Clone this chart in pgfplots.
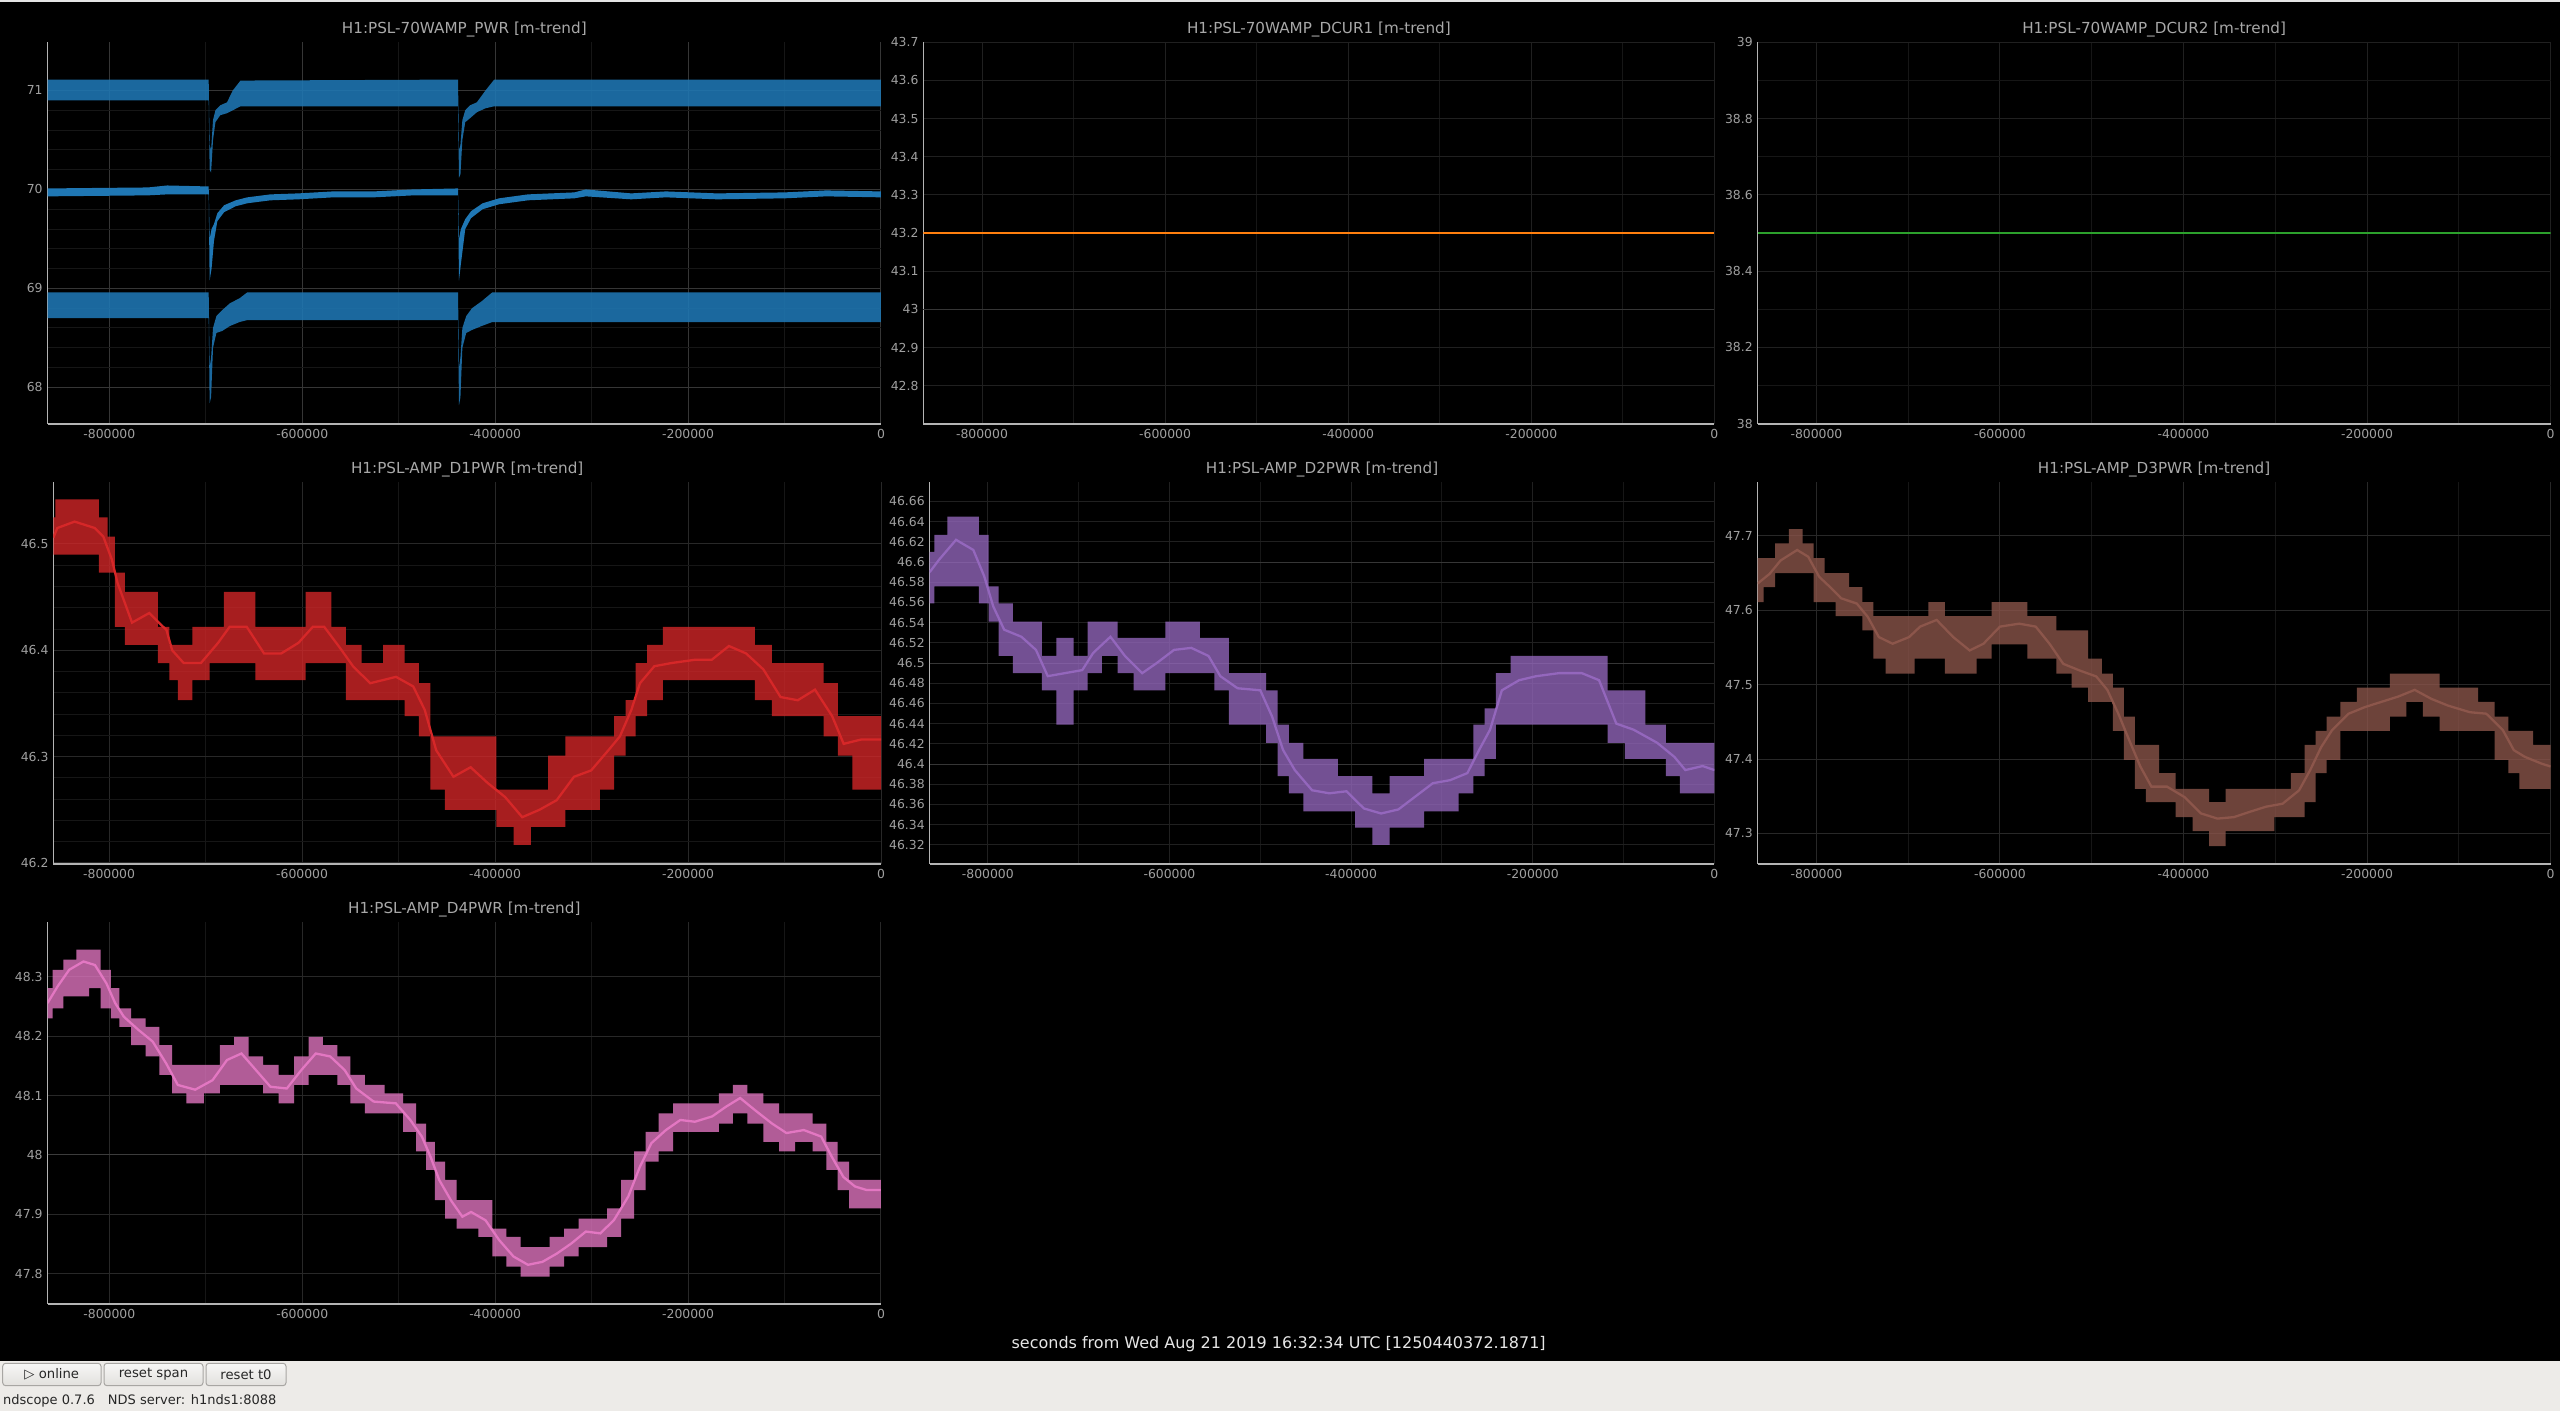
\documentclass[border=0pt]{standalone}
\usepackage{pgfplots}
\pgfplotsset{compat=1.18}
\usepackage{pgfplotstable}
\usepackage{fontspec}
\setmainfont{DejaVu Sans}

\definecolor{tblue}{HTML}{1F77B4}
\definecolor{torange}{HTML}{FF7F0E}
\definecolor{tgreen}{HTML}{2CA02C}
\definecolor{tred}{HTML}{D62728}
\definecolor{tpurple}{HTML}{9467BD}
\definecolor{tbrown}{HTML}{8C564B}
\definecolor{tpink}{HTML}{E377C2}
\definecolor{tickc}{HTML}{A0A0A0}
\definecolor{titlec}{HTML}{A8A8A8}
\definecolor{spinec}{HTML}{B4B4B4}
\definecolor{gridbright}{HTML}{363636}
\definecolor{gridmaj}{HTML}{202020}
\definecolor{gridmin}{HTML}{161616}
\definecolor{barbg}{HTML}{EDEBE8}
\definecolor{capc}{HTML}{E6E6E6}
\definecolor{topline}{HTML}{E4E4E4}
\definecolor{btntop}{HTML}{F7F7F6}
\definecolor{btnbot}{HTML}{E2E0DD}
\definecolor{btnborder}{HTML}{A8A6A3}
\definecolor{gridmid}{HTML}{282828}
\definecolor{gridhi}{HTML}{3C3C3C}

\newcommand\ticksize{\fontsize{6.2}{7}\selectfont}
\newcommand\titlesize{\fontsize{7.6}{9}\selectfont}

\pgfplotsset{
  ndaxis/.style={
    scale only axis, anchor=south west,
    axis x line*=bottom, axis y line*=left,
    axis line style={draw=spinec, line width=0.6pt},
    major tick length=0pt, minor tick length=0pt,
    grid=both,
    major grid style={draw=gridmaj, line width=0.5pt},
    minor grid style={draw=gridmin, line width=0.5pt},
    xmin=-864000, xmax=0,
    scaled x ticks=false, scaled y ticks=false,
    xtick={-800000,-600000,-400000,-200000,0},
    xticklabels={-800000,-600000,-400000,-200000,0},
    minor x tick num=1,
    tick label style={font=\ticksize, text=tickc},
    yticklabel style={inner sep=0pt, xshift=-2.3pt},
    xticklabel style={inner sep=0pt, yshift=-2.6pt},
    /pgf/number format/assume math mode=true,
    title style={font=\titlesize, text=titlec, at={(0.5,1)}, anchor=center, yshift=0.2pt},
  },
  band/.style={fill=#1, fill opacity=0.78, draw=none, const plot mark mid},
  meanline/.style={draw=#1, line width=1.15pt},
  bluefill/.style={fill=tblue, fill opacity=0.88, draw=none},
}

% ---------- PWR polygons (upper edge forward, lower edge back) ----------
\pgfplotstableread{
x y
-864000 71.11
-697000 71.11
-696000 70.45
-694500 70.40
-692500 70.70
-690000 70.80
-685000 70.85
-678000 70.88
-672000 71.00
-664000 71.10
-438500 71.11
-437500 70.40
-436000 70.45
-434000 70.70
-431000 70.80
-426000 70.85
-419000 70.88
-410000 71.00
-401000 71.11
0 71.11
0 70.84
-401000 70.84
-410000 70.82
-419000 70.78
-426000 70.72
-431000 70.68
-434000 70.50
-436000 70.15
-437500 70.12
-438500 70.84
-664000 70.84
-672000 70.80
-678000 70.77
-685000 70.75
-690000 70.68
-692500 70.50
-694500 70.17
-696000 70.20
-697000 70.90
-864000 70.90
}\pwrmax
\pgfplotstableread{
x y
-864000 70.01
-760000 70.02
-740000 70.04
-697000 70.03
-696000 69.50
-694000 69.60
-691500 69.65
-688000 69.76
-681000 69.84
-669000 69.89
-657000 69.92
-633000 69.95
-604000 69.96
-568000 69.98
-526000 69.98
-485000 70.00
-438500 70.01
-437500 69.50
-435500 69.60
-431000 69.70
-425000 69.78
-413000 69.86
-396000 69.91
-366000 69.95
-318000 69.97
-306000 70.00
-259000 69.96
-223000 69.98
-170000 69.96
-100000 69.97
-57000 69.99
0 69.98
0 69.92
-57000 69.93
-100000 69.91
-170000 69.90
-223000 69.92
-259000 69.90
-306000 69.93
-318000 69.91
-366000 69.89
-396000 69.85
-413000 69.80
-425000 69.71
-431000 69.60
-435500 69.25
-437500 69.08
-438500 69.94
-485000 69.94
-526000 69.92
-568000 69.92
-604000 69.90
-633000 69.89
-657000 69.86
-669000 69.83
-681000 69.77
-688000 69.68
-691500 69.48
-694000 69.20
-696000 69.08
-697000 69.95
-740000 69.95
-760000 69.94
-864000 69.93
}\pwrmean
\pgfplotstableread{
x y
-864000 68.96
-697000 68.96
-696000 68.20
-694500 68.30
-692500 68.60
-689000 68.72
-683000 68.78
-675000 68.85
-665000 68.90
-657000 68.96
-438500 68.96
-437500 68.20
-436000 68.30
-434000 68.60
-430000 68.72
-424000 68.80
-414000 68.87
-403000 68.96
0 68.96
0 68.66
-403000 68.66
-414000 68.62
-424000 68.58
-430000 68.55
-434000 68.40
-436000 67.90
-437500 67.82
-438500 68.68
-657000 68.68
-665000 68.66
-675000 68.62
-683000 68.57
-689000 68.55
-692500 68.40
-694500 67.90
-696000 67.84
-697000 68.70
-864000 68.70
}\pwrmin

% ---------- D1PWR ----------
\pgfplotstableread{
x y
-857700 46.525
-853600 46.542
-835700 46.542
-814900 46.542
-806000 46.525
-797000 46.507
-791100 46.473
-776200 46.455
-758400 46.455
-740500 46.422
-734600 46.405
-722700 46.405
-704800 46.422
-687000 46.422
-675100 46.455
-657300 46.455
-639400 46.422
-621600 46.422
-603700 46.422
-588900 46.455
-577000 46.455
-562100 46.422
-547200 46.405
-529400 46.388
-502600 46.405
-484800 46.388
-472900 46.369
-461000 46.319
-443100 46.319
-425300 46.319
-407400 46.319
-389600 46.269
-371800 46.269
-353900 46.269
-336100 46.301
-318200 46.319
-300400 46.319
-282500 46.319
-270600 46.338
-258700 46.353
-249800 46.388
-234900 46.405
-217100 46.422
-193300 46.422
-175500 46.422
-157600 46.422
-139800 46.422
-121900 46.405
-104100 46.388
-86200 46.388
-68400 46.388
-50600 46.369
-38700 46.338
-20800 46.338
0 46.338
0 46.269
-20800 46.269
-38700 46.301
-50600 46.319
-68400 46.338
-86200 46.338
-104100 46.338
-121900 46.353
-139800 46.372
-157600 46.372
-175500 46.372
-193300 46.372
-217100 46.372
-234900 46.353
-249800 46.338
-258700 46.319
-270600 46.301
-282500 46.269
-300400 46.250
-318200 46.250
-336100 46.234
-353900 46.234
-371800 46.217
-389600 46.234
-407400 46.250
-425300 46.250
-443100 46.250
-461000 46.269
-472900 46.319
-484800 46.338
-502600 46.353
-529400 46.353
-547200 46.353
-562100 46.388
-577000 46.388
-588900 46.388
-603700 46.372
-621600 46.372
-639400 46.372
-657300 46.388
-675100 46.388
-687000 46.388
-704800 46.372
-722700 46.353
-734600 46.372
-740500 46.388
-758400 46.405
-776200 46.405
-791100 46.422
-797000 46.473
-806000 46.473
-814900 46.490
-835700 46.490
-853600 46.490
-857700 46.490
}\bandA
\pgfplotstableread{
x y
-857700 46.506
-853600 46.515
-835700 46.521
-814900 46.515
-806000 46.507
-797000 46.485
-791100 46.463
-776200 46.426
-758400 46.435
-740500 46.419
-734600 46.400
-722700 46.388
-704800 46.388
-687000 46.407
-675100 46.422
-657300 46.422
-639400 46.397
-621600 46.397
-603700 46.407
-588900 46.422
-577000 46.422
-562100 46.404
-547200 46.385
-529400 46.369
-502600 46.375
-484800 46.366
-472900 46.344
-461000 46.306
-443100 46.281
-425300 46.290
-407400 46.275
-389600 46.262
-371800 46.243
-353900 46.250
-336100 46.259
-318200 46.281
-300400 46.287
-282500 46.306
-270600 46.319
-258700 46.344
-249800 46.369
-234900 46.385
-217100 46.388
-193300 46.391
-175500 46.391
-157600 46.404
-139800 46.397
-121900 46.382
-104100 46.356
-86200 46.353
-68400 46.363
-50600 46.338
-38700 46.312
-20800 46.316
0 46.316
}\meanA

% ---------- D2PWR ----------
\pgfplotstableread{
x y
-864000 46.610
-854000 46.627
-835000 46.645
-816000 46.645
-804000 46.627
-794000 46.576
-782000 46.559
-763000 46.541
-747000 46.541
-734000 46.507
-715000 46.525
-696000 46.507
-684000 46.541
-665000 46.541
-649000 46.525
-630000 46.525
-614000 46.525
-595000 46.541
-576000 46.541
-557000 46.525
-544000 46.525
-525000 46.490
-500000 46.490
-487000 46.473
-475000 46.439
-462000 46.421
-443000 46.405
-424000 46.405
-405000 46.388
-386000 46.388
-367000 46.371
-348000 46.388
-329000 46.388
-310000 46.405
-291000 46.405
-272000 46.405
-259000 46.439
-247000 46.455
-234000 46.490
-215000 46.507
-196000 46.507
-171000 46.507
-146000 46.507
-127000 46.507
-108000 46.473
-89000 46.473
-63000 46.439
-44000 46.421
-32000 46.421
-13000 46.421
0 46.421
0 46.371
-13000 46.371
-32000 46.371
-44000 46.388
-63000 46.405
-89000 46.405
-108000 46.421
-127000 46.439
-146000 46.439
-171000 46.439
-196000 46.439
-215000 46.439
-234000 46.439
-247000 46.405
-259000 46.388
-272000 46.371
-291000 46.353
-310000 46.353
-329000 46.337
-348000 46.337
-367000 46.320
-386000 46.337
-405000 46.353
-424000 46.353
-443000 46.353
-462000 46.371
-475000 46.388
-487000 46.421
-500000 46.439
-525000 46.439
-544000 46.473
-557000 46.490
-576000 46.490
-595000 46.490
-614000 46.473
-630000 46.473
-649000 46.490
-665000 46.507
-684000 46.490
-696000 46.473
-715000 46.439
-734000 46.473
-747000 46.490
-763000 46.490
-782000 46.507
-794000 46.541
-804000 46.559
-816000 46.576
-835000 46.576
-854000 46.576
-864000 46.559
}\bandB
\pgfplotstableread{
x y
-864000 46.590
-854000 46.602
-835000 46.622
-816000 46.612
-804000 46.586
-794000 46.556
-782000 46.533
-763000 46.526
-747000 46.513
-734000 46.487
-715000 46.490
-696000 46.493
-684000 46.510
-665000 46.526
-649000 46.507
-630000 46.490
-614000 46.500
-595000 46.513
-576000 46.515
-557000 46.507
-544000 46.487
-525000 46.475
-500000 46.473
-487000 46.447
-475000 46.414
-462000 46.394
-443000 46.374
-424000 46.371
-405000 46.373
-386000 46.356
-367000 46.351
-348000 46.355
-329000 46.368
-310000 46.381
-291000 46.384
-272000 46.391
-259000 46.414
-247000 46.434
-234000 46.473
-215000 46.483
-196000 46.487
-171000 46.490
-146000 46.490
-127000 46.483
-108000 46.440
-89000 46.434
-63000 46.421
-44000 46.407
-32000 46.394
-13000 46.398
0 46.394
}\meanB

% ---------- D3PWR ----------
\pgfplotstableread{
x y
-864000 47.670
-851000 47.670
-839000 47.690
-821000 47.709
-809000 47.690
-797000 47.670
-785000 47.650
-773000 47.650
-756000 47.631
-744000 47.611
-732000 47.592
-717000 47.592
-699000 47.592
-687000 47.592
-669000 47.611
-651000 47.592
-633000 47.592
-618000 47.592
-600000 47.611
-579000 47.611
-561000 47.592
-546000 47.592
-531000 47.573
-513000 47.573
-495000 47.535
-483000 47.515
-471000 47.496
-459000 47.457
-447000 47.419
-435000 47.419
-418000 47.381
-399000 47.360
-381000 47.360
-363000 47.342
-345000 47.360
-328000 47.360
-310000 47.360
-292000 47.360
-274000 47.381
-262000 47.419
-250000 47.438
-238000 47.457
-220000 47.477
-202000 47.496
-184000 47.496
-166000 47.515
-148000 47.515
-130000 47.515
-112000 47.496
-88000 47.496
-70000 47.477
-52000 47.457
-40000 47.438
-28000 47.438
-10000 47.419
0 47.419
0 47.360
-10000 47.360
-28000 47.360
-40000 47.381
-52000 47.399
-70000 47.438
-88000 47.438
-112000 47.438
-130000 47.457
-148000 47.477
-166000 47.457
-184000 47.438
-202000 47.438
-220000 47.438
-238000 47.399
-250000 47.381
-262000 47.342
-274000 47.322
-292000 47.322
-310000 47.303
-328000 47.303
-345000 47.303
-363000 47.283
-381000 47.303
-399000 47.322
-418000 47.342
-435000 47.342
-447000 47.360
-459000 47.399
-471000 47.438
-483000 47.477
-495000 47.477
-513000 47.496
-531000 47.515
-546000 47.535
-561000 47.535
-579000 47.554
-600000 47.554
-618000 47.535
-633000 47.515
-651000 47.515
-669000 47.535
-687000 47.535
-699000 47.515
-717000 47.515
-732000 47.535
-744000 47.573
-756000 47.592
-773000 47.592
-785000 47.611
-797000 47.611
-809000 47.650
-821000 47.650
-839000 47.650
-851000 47.631
-864000 47.611
}\bandC
\pgfplotstableread{
x y
-864000 47.636
-851000 47.649
-839000 47.667
-821000 47.681
-809000 47.672
-797000 47.645
-785000 47.631
-773000 47.616
-756000 47.609
-744000 47.591
-732000 47.564
-717000 47.555
-699000 47.564
-687000 47.578
-669000 47.587
-651000 47.564
-633000 47.546
-618000 47.555
-600000 47.578
-579000 47.582
-561000 47.578
-546000 47.555
-531000 47.528
-513000 47.519
-495000 47.511
-483000 47.493
-471000 47.461
-459000 47.425
-447000 47.390
-435000 47.363
-418000 47.363
-399000 47.349
-381000 47.327
-363000 47.320
-345000 47.322
-328000 47.329
-310000 47.336
-292000 47.340
-274000 47.358
-262000 47.385
-250000 47.416
-238000 47.439
-220000 47.461
-202000 47.470
-184000 47.477
-166000 47.484
-148000 47.493
-130000 47.481
-112000 47.472
-88000 47.463
-70000 47.461
-52000 47.439
-40000 47.412
-28000 47.403
-10000 47.394
0 47.390
}\meanC

% ---------- D4PWR ----------
\pgfplotstableread{
x y
-864000 48.281
-853600 48.312
-841600 48.329
-826800 48.346
-814900 48.346
-803000 48.312
-794000 48.281
-785000 48.247
-770000 48.230
-755000 48.216
-741000 48.185
-729000 48.152
-711000 48.152
-693000 48.152
-678000 48.185
-663000 48.199
-648000 48.166
-633000 48.152
-616000 48.135
-601000 48.166
-586000 48.199
-571000 48.185
-556000 48.166
-544000 48.135
-526000 48.118
-503000 48.104
-488000 48.087
-476000 48.053
-467000 48.022
-458000 47.989
-446000 47.958
-434000 47.924
-425000 47.924
-410000 47.924
-396000 47.876
-381000 47.862
-366000 47.845
-351000 47.845
-336000 47.862
-321000 47.876
-306000 47.893
-291000 47.893
-277000 47.910
-262000 47.958
-250000 48.006
-238000 48.039
-223000 48.070
-208000 48.087
-193000 48.087
-175000 48.087
-161000 48.104
-146000 48.118
-131000 48.104
-113000 48.087
-98000 48.070
-80000 48.070
-62000 48.053
-51000 48.022
-39000 47.989
-27000 47.958
-15000 47.958
0 47.958
0 47.910
-15000 47.910
-27000 47.910
-39000 47.941
-51000 47.975
-62000 48.006
-80000 48.022
-98000 48.006
-113000 48.022
-131000 48.053
-146000 48.070
-161000 48.053
-175000 48.039
-193000 48.039
-208000 48.039
-223000 48.006
-238000 47.989
-250000 47.941
-262000 47.893
-277000 47.862
-291000 47.845
-306000 47.845
-321000 47.829
-336000 47.812
-351000 47.795
-366000 47.795
-381000 47.812
-396000 47.829
-410000 47.862
-425000 47.876
-434000 47.876
-446000 47.893
-458000 47.924
-467000 47.975
-476000 48.006
-488000 48.039
-503000 48.070
-526000 48.070
-544000 48.087
-556000 48.118
-571000 48.135
-586000 48.135
-601000 48.118
-616000 48.087
-633000 48.104
-648000 48.118
-663000 48.118
-678000 48.118
-693000 48.104
-711000 48.087
-729000 48.104
-741000 48.135
-755000 48.166
-770000 48.185
-785000 48.216
-794000 48.230
-803000 48.247
-814900 48.281
-826800 48.267
-841600 48.267
-853600 48.247
-864000 48.230
}\bandD
\pgfplotstableread{
x y
-864000 48.256
-853600 48.284
-841600 48.312
-826800 48.326
-814900 48.320
-803000 48.289
-794000 48.256
-785000 48.233
-770000 48.211
-755000 48.191
-741000 48.154
-729000 48.118
-711000 48.110
-693000 48.126
-678000 48.160
-663000 48.171
-648000 48.143
-633000 48.115
-616000 48.112
-601000 48.143
-586000 48.171
-571000 48.166
-556000 48.143
-544000 48.112
-526000 48.090
-503000 48.087
-488000 48.059
-476000 48.031
-467000 47.997
-458000 47.958
-446000 47.924
-434000 47.896
-425000 47.904
-410000 47.890
-396000 47.857
-381000 47.829
-366000 47.815
-351000 47.820
-336000 47.834
-321000 47.851
-306000 47.871
-291000 47.868
-277000 47.890
-262000 47.930
-250000 47.980
-238000 48.020
-223000 48.042
-208000 48.059
-193000 48.056
-175000 48.065
-161000 48.081
-146000 48.096
-131000 48.076
-113000 48.053
-98000 48.037
-80000 48.042
-62000 48.031
-51000 47.997
-39000 47.963
-27000 47.947
-15000 47.941
0 47.941
}\meanD

\begin{document}
\begin{tikzpicture}
\useasboundingbox (0,0) rectangle (1280pt,705.5pt);
\fill[black] (0,0) rectangle (1280pt,705.5pt);
\fill[topline] (0,704.7pt) rectangle (1280pt,705.5pt);
\fill[barbg] (0,0) rectangle (1280pt,25.15pt);

% ===== Row 1 =====
\begin{axis}[ndaxis, at={(23.8pt,493.5pt)}, width=416.7pt, height=191pt,
  ymin=67.63, ymax=71.49, ytick={68,69,70,71}, minor y tick num=4,
  major grid style={draw=gridbright, line width=0.5pt},
  title={H1:PSL-70WAMP\_PWR [m-trend]}]
  \addplot[bluefill] table[x=x,y=y]{\pwrmax};
  \addplot[fill=tblue, draw=none] table[x=x,y=y]{\pwrmean};
  \addplot[bluefill] table[x=x,y=y]{\pwrmin};
\end{axis}

\begin{axis}[ndaxis, at={(461.7pt,493.5pt)}, width=395.5pt, height=191pt,
  ymin=42.7, ymax=43.7005,
  ytick={42.8,42.9,43,43.1,43.2,43.3,43.4,43.5,43.6,43.7},
  extra y ticks={43}, extra y tick labels={},
  extra tick style={major grid style={draw=gridbright, line width=0.5pt}},
  title={H1:PSL-70WAMP\_DCUR1 [m-trend]}]
  \addplot[draw=torange, line width=0.7pt] coordinates {(-864000,43.2) (0,43.2)};
\end{axis}

\begin{axis}[ndaxis, at={(878.85pt,493.5pt)}, width=396.4pt, height=191pt,
  ymin=37.9995, ymax=39.0005,
  ytick={38,38.2,38.4,38.6,38.8,39}, minor y tick num=1,
  title={H1:PSL-70WAMP\_DCUR2 [m-trend]}]
  \addplot[draw=tgreen, line width=0.7pt] coordinates {(-864000,38.5) (0,38.5)};
\end{axis}

% ===== Row 2 =====
\begin{axis}[ndaxis, at={(26.7pt,273.5pt)}, width=413.8pt, height=190.85pt,
  xmin=-857700, ymin=46.199, ymax=46.558,
  ytick={46.2,46.3,46.4,46.5}, minor y tick num=4,
  major grid style={draw=gridmid, line width=0.5pt},
  title={H1:PSL-AMP\_D1PWR [m-trend]}]
  \addplot[band=tred] table[x=x,y=y]{\bandA};
  \addplot[meanline=tred] table[x=x,y=y]{\meanA};
\end{axis}

\begin{axis}[ndaxis, at={(464.85pt,273.5pt)}, width=392.35pt, height=190.85pt,
  ymin=46.301, ymax=46.679,
  ytick={46.32,46.34,46.36,46.38,46.4,46.42,46.44,46.46,46.48,46.5,46.52,46.54,46.56,46.58,46.6,46.62,46.64,46.66},
  extra y ticks={46.4,46.5,46.6}, extra y tick labels={},
  extra tick style={major grid style={draw=gridbright, line width=0.5pt}},
  title={H1:PSL-AMP\_D2PWR [m-trend]}]
  \addplot[band=tpurple] table[x=x,y=y]{\bandB};
  \addplot[meanline=tpurple] table[x=x,y=y]{\meanB};
\end{axis}

\begin{axis}[ndaxis, at={(878.85pt,273.5pt)}, width=396.4pt, height=190.85pt,
  ymin=47.259, ymax=47.772,
  ytick={47.3,47.4,47.5,47.6,47.7},
  major grid style={draw=gridmid, line width=0.5pt},
  title={H1:PSL-AMP\_D3PWR [m-trend]}]
  \addplot[band=tbrown] table[x=x,y=y]{\bandC};
  \addplot[meanline=tbrown] table[x=x,y=y]{\meanC};
\end{axis}

% ===== Row 3 =====
\begin{axis}[ndaxis, at={(23.8pt,53.5pt)}, width=416.7pt, height=190.85pt,
  ymin=47.749, ymax=48.392,
  ytick={47.8,47.9,48,48.1,48.2,48.3},
  major grid style={draw=gridmid, line width=0.5pt},
  extra y ticks={48}, extra y tick labels={},
  extra tick style={major grid style={draw=gridhi, line width=0.5pt}},
  title={H1:PSL-AMP\_D4PWR [m-trend]}]
  \addplot[band=tpink] table[x=x,y=y]{\bandD};
  \addplot[meanline=tpink] table[x=x,y=y]{\meanD};
\end{axis}

% ===== caption and status bar =====
\node[text=capc, font=\fontsize{8}{9.6}\selectfont, anchor=center] at (639.35pt,33.35pt)
  {seconds from Wed Aug 21 2019 16:32:34 UTC [1250440372.1871]};

\shade[top color=btntop, bottom color=btnbot, draw=btnborder, line width=0.5pt, rounded corners=1.5pt]
  (1.35pt,12.65pt) rectangle (50.5pt,23.85pt);
\node[font=\fontsize{6.6}{8}\selectfont, text=black!85] at (25.9pt,18.25pt) {▷\ online};
\shade[top color=btntop, bottom color=btnbot, draw=btnborder, line width=0.5pt, rounded corners=1.5pt]
  (52pt,12.65pt) rectangle (101.5pt,23.85pt);
\node[font=\fontsize{6.6}{8}\selectfont, text=black!85] at (76.75pt,18.25pt) {reset span};
\shade[top color=btntop, bottom color=btnbot, draw=btnborder, line width=0.5pt, rounded corners=1.5pt]
  (103pt,12.65pt) rectangle (143pt,23.85pt);
\node[font=\fontsize{6.6}{8}\selectfont, text=black!85] at (123pt,18.25pt) {reset t0};
\node[font=\fontsize{6.5}{8}\selectfont, text=black!85, anchor=west, inner sep=0pt] at (1.35pt,5pt)
  {ndscope 0.7.6\quad NDS server: h1nds1:8088};
\end{tikzpicture}
\end{document}
